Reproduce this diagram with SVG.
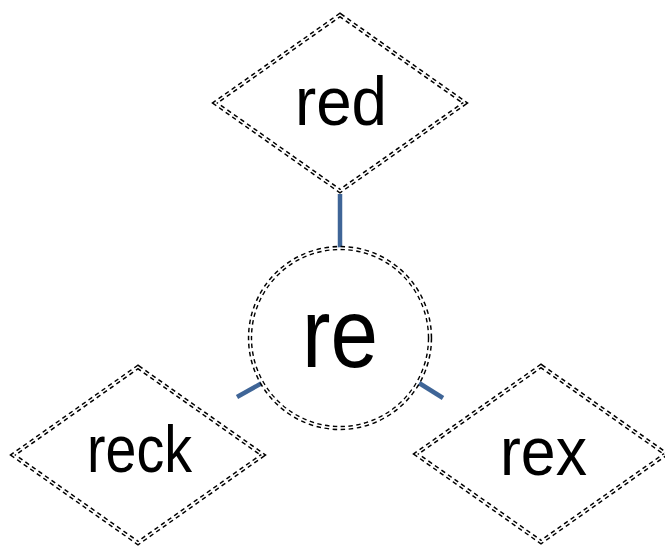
<svg xmlns="http://www.w3.org/2000/svg" xmlns:xlink="http://www.w3.org/1999/xlink" width="665" height="546" viewBox="0 0 665 546">
<style>
.outer{fill:none;stroke:#000;stroke-width:4.4;stroke-dasharray:4.5 3.5}
.inner{fill:none;stroke:#fff;stroke-width:1.5}
.lbl{font-family:"Liberation Sans",Arial,sans-serif;fill:#000;text-anchor:middle}
.conn{stroke:#3F6597;stroke-width:4.5;fill:none}
</style>
<defs>
<polygon id="dia" points="0,-88 125,0 0,88 -125,0"/>
<circle id="circ" r="90"/>
</defs>
<rect width="665" height="546" fill="#fff"/>
<g id="connectors">
<line class="conn" x1="340" y1="194" x2="340" y2="248"/>
<line class="conn" x1="237" y1="397" x2="262" y2="383"/>
<line class="conn" x1="419" y1="383" x2="443" y2="398"/>
</g>
<g id="node-red" transform="translate(340,103)">
<use xlink:href="#dia" class="outer"/>
<use xlink:href="#dia" class="inner"/>
<text class="lbl" x="1" y="22" font-size="68" textLength="92" lengthAdjust="spacingAndGlyphs">red</text>
</g>
<g id="node-re" transform="translate(340,338)">
<use xlink:href="#circ" class="outer"/>
<use xlink:href="#circ" class="inner"/>
<text class="lbl" x="0" y="29" font-size="98" textLength="76" lengthAdjust="spacingAndGlyphs">re</text>
</g>
<g id="node-reck" transform="translate(138,455)">
<use xlink:href="#dia" class="outer"/>
<use xlink:href="#dia" class="inner"/>
<text class="lbl" x="1.5" y="17" font-size="66" textLength="105" lengthAdjust="spacingAndGlyphs">reck</text>
</g>
<g id="node-rex" transform="translate(541,454)">
<use xlink:href="#dia" class="outer"/>
<use xlink:href="#dia" class="inner"/>
<text class="lbl" x="2.5" y="21" font-size="68" textLength="87" lengthAdjust="spacingAndGlyphs">rex</text>
</g>
</svg>
